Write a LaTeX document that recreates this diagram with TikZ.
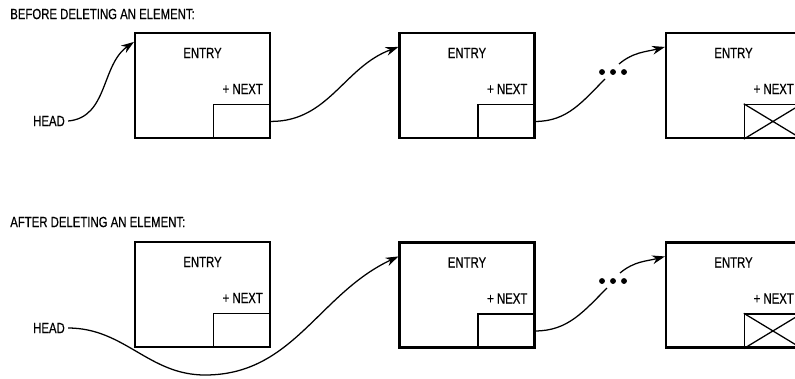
\documentclass[tikz,border=0pt]{standalone}
\usepackage{fontspec}
\setmainfont[FakeStretch=0.77, FakeBold=0.6]{Liberation Sans}
\usetikzlibrary{arrows.meta, positioning, calc}

\begin{document}
\begin{tikzpicture}[x=0.025cm, y=-0.025cm]
    % Define styles
    \tikzstyle{entry} = [rectangle, draw, line width=1.5pt, minimum width=3.375cm, minimum height=2.625cm, inner sep=0pt]
    \tikzstyle{nextbox} = [rectangle, draw, line width=0.9pt, minimum width=1.425cm, minimum height=0.85cm, anchor=south east, inner sep=0pt]
    \tikzstyle{txt} = [font=\fontsize{10.5}{12}\selectfont, inner sep=0pt]
    \tikzstyle{arrow} = [-{Stealth[length=3.2mm, width=2.2mm]}, line width=0.9pt]
    \tikzstyle{link} = [line width=0.9pt]

    \useasboundingbox (0,0) rectangle (795,378);

    % Before deleting
    \node[txt, anchor=west] (title1) at (10,14) {BEFORE DELETING AN ELEMENT:};
    \node[txt] (head1) at (49,121) {HEAD};

    \node[entry] (e1) at (202.5,85.5) {};
    \node[entry] (e2) at (467,85.5) {};
    \node[entry] (e3) at (733.5,85.5) {};

    \node[txt] (t1) at ($(e1.north)+(0,21)$) {ENTRY};
    \node[txt, anchor=east] (p1) at ($(e1.north east)+(-8,57)$) {+ NEXT};
    \node[nextbox] (n1) at (e1.south east) {};
    \node[txt] (t2) at ($(e2.north)+(0,21)$) {ENTRY};
    \node[txt, anchor=east] (p2) at ($(e2.north east)+(-8,57)$) {+ NEXT};
    \node[nextbox] (n2) at (e2.south east) {};
    \node[txt] (t3) at ($(e3.north)+(0,21)$) {ENTRY};
    \node[txt, anchor=east] (p3) at ($(e3.north east)+(-8,57)$) {+ NEXT};
    \node[nextbox] (n3) at (e3.south east) {};
    \draw[line width=0.9pt] (n3.north west) -- (n3.south east) (n3.south west) -- (n3.north east);

    % Links - before
    \coordinate (gap1a) at (605,79);
    \coordinate (gap1b) at (619,64);
    \draw[arrow] (head1.east) ++(3,0) to[out=5, in=215] ($(e1.north west)+(0,10)$);
    \draw[arrow] (n1.east) to[out=0, in=200] ($(e2.north west)+(0,15)$);
    \draw[link] (n2.east) to[out=0, in=225] (gap1a);
    \draw[arrow] (gap1b) to[out=40, in=195] ($(e3.north west)+(0,15)$);
    \fill (602,72) circle (2.1pt) (613,72) circle (2.1pt) (624,72) circle (2.1pt);

    % After deleting
    \node[txt, anchor=west] (title2) at (10,222) {AFTER DELETING AN ELEMENT:};
    \node[txt] (head2) at (49,328) {HEAD};

    \node[entry] (e4) at (202.5,294.5) {};
    \node[entry] (e5) at (467,295) {};
    \node[entry] (e6) at (733.5,295) {};

    \node[txt] (t4) at ($(e4.north)+(0,21)$) {ENTRY};
    \node[txt, anchor=east] (p4) at ($(e4.north east)+(-8,57)$) {+ NEXT};
    \node[nextbox] (n4) at (e4.south east) {};
    \node[txt] (t5) at ($(e5.north)+(0,21)$) {ENTRY};
    \node[txt, anchor=east] (p5) at ($(e5.north east)+(-8,57)$) {+ NEXT};
    \node[nextbox] (n5) at (e5.south east) {};
    \node[txt] (t6) at ($(e6.north)+(0,21)$) {ENTRY};
    \node[txt, anchor=east] (p6) at ($(e6.north east)+(-8,57)$) {+ NEXT};
    \node[nextbox] (n6) at (e6.south east) {};
    \draw[line width=0.9pt] (n6.north west) -- (n6.south east) (n6.south west) -- (n6.north east);

    % Links - after
    \coordinate (low) at (205,375);
    \coordinate (gap2a) at (607,288);
    \coordinate (gap2b) at (620,273);
    \draw[arrow] (head2.east) ++(3,0) to[out=0, in=180] (low) to[out=0, in=205] ($(e5.north west)+(0,15)$);
    \draw[link] (n5.east) to[out=0, in=225] (gap2a);
    \draw[arrow] (gap2b) to[out=40, in=195] ($(e6.north west)+(0,15)$);
    \fill (602,281) circle (2.1pt) (613,281) circle (2.1pt) (624,281) circle (2.1pt);
\end{tikzpicture}
\end{document}
